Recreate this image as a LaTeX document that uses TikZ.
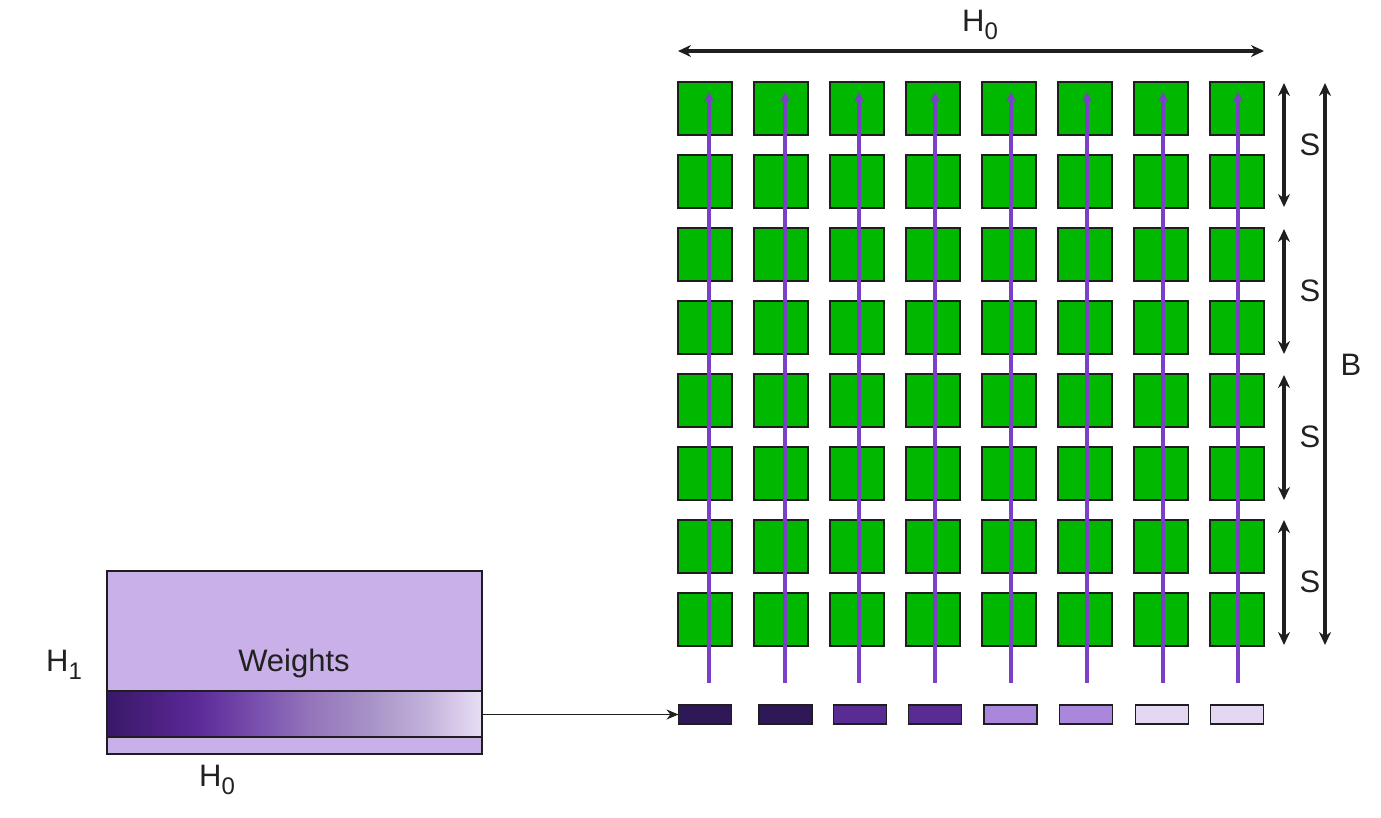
\documentclass[tikz,border=0pt]{standalone}
\usepackage{fontspec}
\setmainfont{Liberation Sans}
\usetikzlibrary{arrows.meta}
\definecolor{gfill}{HTML}{00B800}
\definecolor{edge}{HTML}{1E1E1E}
\definecolor{parrow}{HTML}{7B3FC8}
\definecolor{wfill}{HTML}{C9B0E8}
\definecolor{wA}{HTML}{2E1856}
\definecolor{wB}{HTML}{582C93}
\definecolor{wC}{HTML}{A987DA}
\definecolor{wD}{HTML}{E3D7F1}
\definecolor{s1}{HTML}{3A1868}
\definecolor{s2}{HTML}{4A2080}
\definecolor{s3}{HTML}{5B2A98}
\definecolor{s4}{HTML}{7A50AE}
\definecolor{s5}{HTML}{9474BA}
\definecolor{s6}{HTML}{A792C6}
\definecolor{s7}{HTML}{C4B4DC}
\definecolor{s8}{HTML}{E8DEF4}
\pgfdeclarehorizontalshading{wgrad}{100bp}{color(0bp)=(s1); color(25bp)=(s1); color(31bp)=(s2); color(37bp)=(s3); color(45bp)=(s4); color(52bp)=(s5); color(60bp)=(s6); color(68bp)=(s7); color(75bp)=(s8); color(100bp)=(s8)}
\newcommand{\subz}[1]{\raisebox{-8pt}{\fontsize{24}{24}\selectfont #1}}
\tikzset{
  gbox/.style={draw=edge, line width=1.6pt, fill=gfill, minimum width=54pt, minimum height=53pt, inner sep=0pt, outer sep=0pt},
  wrect/.style={draw=edge, line width=1.6pt, minimum width=53pt, minimum height=19pt, inner sep=0pt, outer sep=0pt},
  parr/.style={draw=parrow, line width=3.6pt, -{Stealth[length=10pt,width=10pt]}},
  dimarr/.style={draw=black!88, line width=3.8pt, {Stealth[length=13pt,width=12pt]}-{Stealth[length=13pt,width=12pt]}},
  lbl/.style={font=\fontsize{31}{36}\selectfont, inner sep=0pt, text=black!87}
}
\begin{document}
\begin{tikzpicture}[x=1pt,y=-1pt]
\useasboundingbox (0,0) rectangle (1381,817);
% green grid
\foreach \r in {1,...,8}{
  \foreach \c in {1,...,8}{
    \node[gbox] (g-\r-\c) at ({705+76*(\c-1)},{108.5+73*(\r-1)}) {};
  }
}
% bottom weight rectangles
\node[wrect, fill=wA] (w-1) at (705,714.5) {};
\node[wrect, fill=wA] (w-2) at (785.5,714.5) {};
\node[wrect, fill=wB] (w-3) at (860,714.5) {};
\node[wrect, fill=wB] (w-4) at (935,714.5) {};
\node[wrect, fill=wC] (w-5) at (1010.5,714.5) {};
\node[wrect, fill=wC] (w-6) at (1086,714.5) {};
\node[wrect, fill=wD] (w-7) at (1162,714.5) {};
\node[wrect, fill=wD] (w-8) at (1237,714.5) {};
% purple arrows
\foreach \c/\x in {1/709,2/785,3/859,4/935,5/1011,6/1087,7/1163,8/1238}{
  \coordinate (pa-\c-s) at (\x,683);
  \coordinate (pa-\c-e) at (\x,92);
  \draw[parr] (pa-\c-s) -- (pa-\c-e);
}
% weights block
\node[draw=edge, line width=1.6pt, fill=wfill, minimum width=375pt, minimum height=183pt, inner sep=0pt, outer sep=0pt, anchor=north west] (wbox) at (107,571) {};
\shade[shading=wgrad] (107,691) rectangle (482,737);
\draw[edge, line width=1.6pt] (107,691) -- (482,691) (107,737) -- (482,737);
\draw[edge, line width=1.6pt] (wbox.north west) rectangle (wbox.south east);
\coordinate (wout) at (482,714.5);
\node[lbl] (weights) at (294,663) {Weights};
\node[lbl] (h1) at (64,665) {H\subz{1}};
\node[lbl] (h0b) at (217,780) {H\subz{0}};
\draw[line width=1.2pt, edge, -{Stealth[length=12pt,width=10pt]}] (wout) -- (w-1.west);
% dimension arrows
\coordinate (t-l) at (678,51);
\coordinate (t-r) at (1264,51);
\draw[dimarr] (t-l) -- (t-r);
\node[lbl] (h0t) at (980,25) {H\subz{0}};
\foreach \i/\a/\b/\m in {1/83/207/145,2/229/354/291,3/375/500/437,4/520/645/582}{
  \coordinate (s-\i-a) at (1284,\a);
  \coordinate (s-\i-b) at (1284,\b);
  \draw[dimarr] (s-\i-a) -- (s-\i-b);
  \node[lbl] (sl-\i) at (1310,\m) {S};
}
\coordinate (b-a) at (1325,83);
\coordinate (b-b) at (1325,645);
\draw[dimarr] (b-a) -- (b-b);
\node[lbl] (bl) at (1351,365) {B};
\end{tikzpicture}
\end{document}
